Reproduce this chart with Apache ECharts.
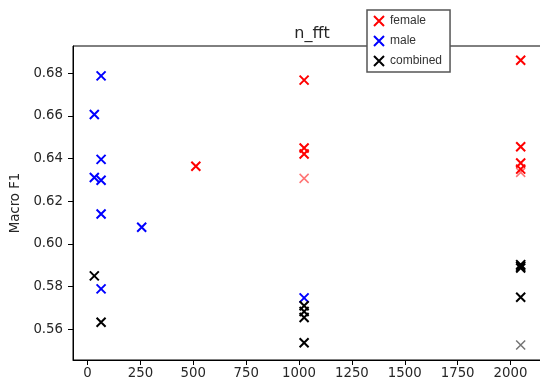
<!DOCTYPE html>
<html>
<head>
<meta charset="utf-8">
<script src="https://cdn.jsdelivr.net/npm/echarts@6/dist/echarts.min.js"></script>
<style>
html,body{margin:0;padding:0;background:#fff;}
#c{width:540px;height:385px;}
</style>
</head>
<body>
<div id="c"></div>
<script>
// ---- data ----
const seriesNames = ['female', 'male', 'combined'];
const femaleX = [512, 1024, 1024, 1024, 1024, 2048, 2048, 2048, 2048, 2048];
const femaleY = [0.6364, 0.6767, 0.6449, 0.6421, 0.6307, 0.6860, 0.6455, 0.6379, 0.6350, 0.6335];
const maleX = [32, 32, 64, 64, 64, 64, 64, 256, 1024];
const maleY = [0.6606, 0.6311, 0.6787, 0.6396, 0.6298, 0.6140, 0.5789, 0.6078, 0.5747];
const combinedX = [32, 64, 1024, 1024, 1024, 1024, 2048, 2048, 2048, 2048, 2048];
const combinedY = [0.5850, 0.5633, 0.5710, 0.5683, 0.5655, 0.5537, 0.5903, 0.5895, 0.5887, 0.5750, 0.5526];
const xTicks = [0, 250, 500, 750, 1000, 1250, 1500, 1750, 2000];
const yTicks = [0.56, 0.58, 0.60, 0.62, 0.64, 0.66, 0.68];

// faint (semi-transparent) points, by index
const faint = { female: [4, 9], male: [], combined: [10] };
const colors = { female: '#ff0000', male: '#0000ff', combined: '#000000' };
const xSym = 'path://M0,0L10,10M10,0L0,10';

function build(name, xs, ys) {
  return xs.map((x, i) => {
    const item = { value: [x, ys[i]] };
    if (faint[name].indexOf(i) >= 0) item.itemStyle = { opacity: 0.55, borderWidth: 1.5 };
    return item;
  });
}

const raw = { female: [femaleX, femaleY], male: [maleX, maleY], combined: [combinedX, combinedY] };

const chart = echarts.init(document.getElementById('c'), null, { renderer: 'canvas' });
const tickFont = { fontFamily: 'DejaVu Sans', fontSize: 13.3, color: '#262626' };

chart.setOption({
  animation: false,
  backgroundColor: '#ffffff',
  title: {
    text: 'n_fft',
    left: 307,
    top: 21,
    textAlign: 'center',
    textStyle: { fontFamily: 'DejaVu Sans', fontSize: 16, fontWeight: 'normal', color: '#262626' }
  },
  legend: {
    orient: 'vertical',
    left: 367,
    top: 10,
    padding: [5, 8, 5, 6],
    itemGap: 8,
    itemWidth: 10,
    itemHeight: 10,
    borderColor: '#555555',
    borderWidth: 1.5,
    backgroundColor: '#ffffff',
    textStyle: { fontFamily: 'Liberation Sans', fontSize: 12, color: '#333333', padding: [0, 0, 0, 1] },
    data: seriesNames.map(n => ({ name: n, icon: xSym, itemStyle: { color: colors[n], borderColor: colors[n], borderWidth: 2, opacity: 1 } }))
  },
  grid: {
    left: 73,
    top: 46,
    width: 469,
    bottom: 25,
    outerBoundsMode: 'none',
    containLabel: false,
    show: true,
    borderColor: '#000000',
    borderWidth: 1,
    backgroundColor: 'transparent'
  },
  xAxis: {
    type: 'value',
    min: -68.8,
    max: 2148.8,
    splitLine: { show: false },
    axisLine: { show: true, onZero: false, lineStyle: { color: '#000', width: 1 } },
    axisTick: { show: true, length: 5, lineStyle: { color: '#000' }, customValues: xTicks },
    axisLabel: { customValues: xTicks, margin: 7, formatter: v => String(Math.round(v)), ...tickFont }
  },
  yAxis: {
    type: 'value',
    min: 0.5456,
    max: 0.6927,
    name: 'Macro F1',
    nameLocation: 'middle',
    nameGap: 48,
    nameRotate: 90,
    nameTextStyle: { fontFamily: 'DejaVu Sans', fontSize: 13.3, color: '#262626' },
    splitLine: { show: false },
    axisLine: { show: true, onZero: false, lineStyle: { color: '#000', width: 1 } },
    axisTick: { show: true, length: 5, lineStyle: { color: '#000' }, customValues: yTicks },
    axisLabel: { customValues: yTicks, margin: 10, formatter: v => v.toFixed(2), ...tickFont }
  },
  series: seriesNames.map(n => ({
    name: n,
    type: 'scatter',
    symbol: xSym,
    symbolSize: 9,
    itemStyle: { color: colors[n], borderColor: colors[n], borderWidth: 2, opacity: 1 },
    emphasis: { disabled: true },
    data: build(n, raw[n][0], raw[n][1])
  }))
});
</script>
</body>
</html>
